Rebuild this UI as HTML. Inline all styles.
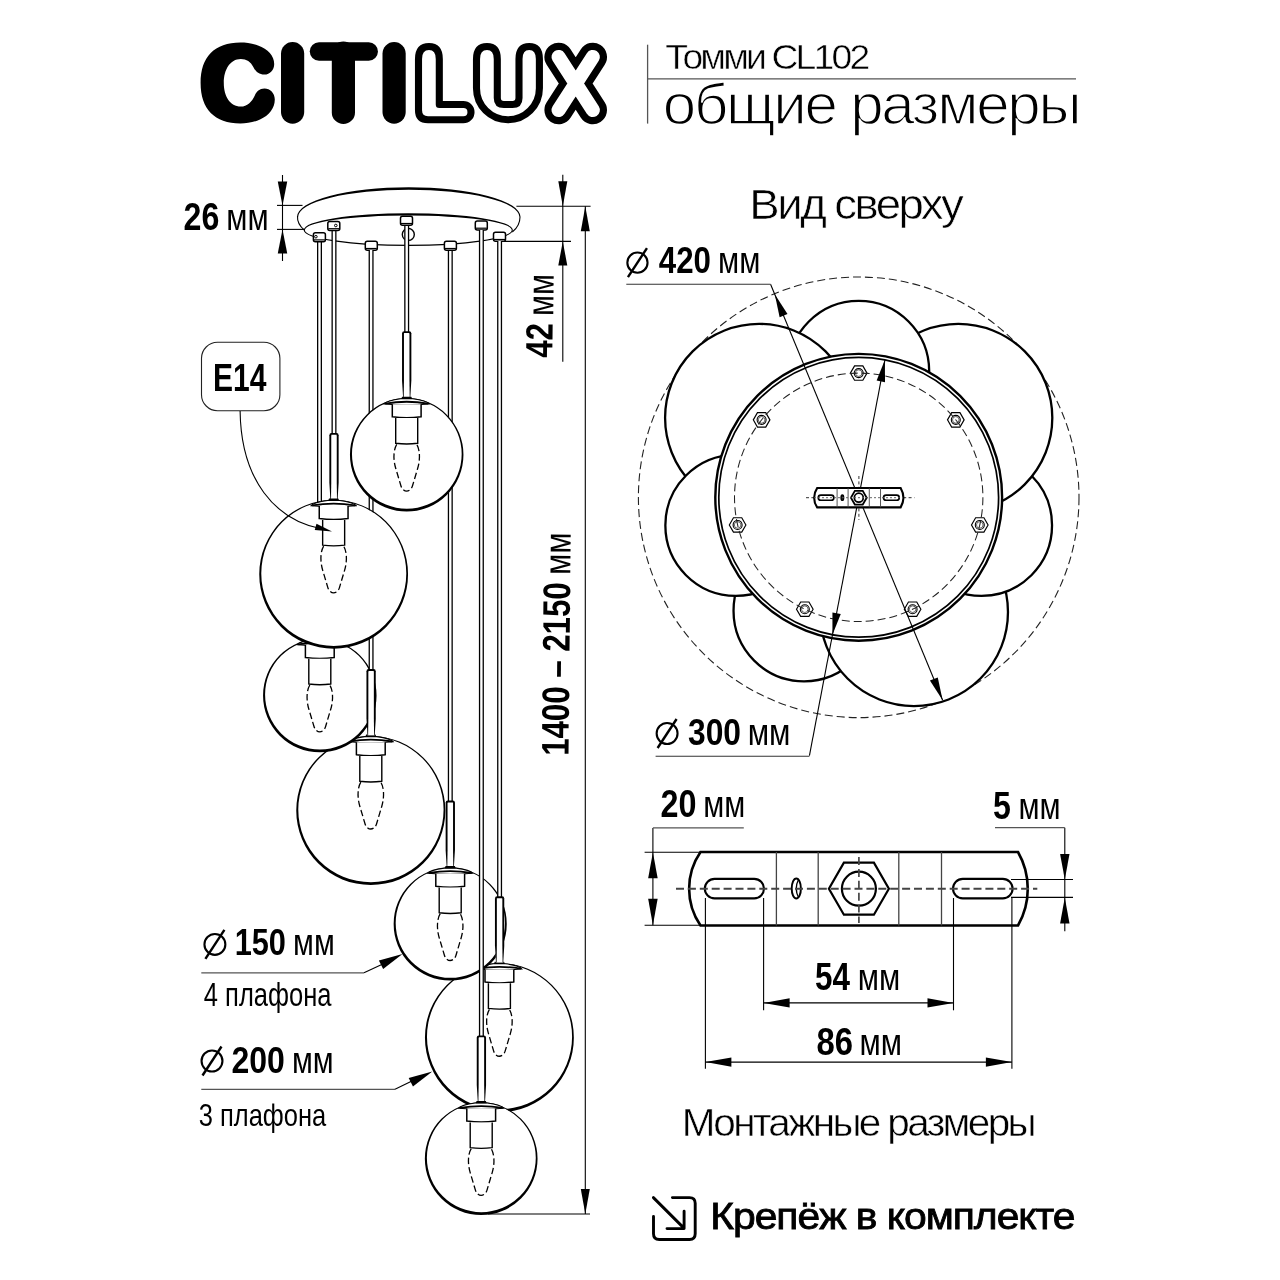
<!DOCTYPE html>
<html><head><meta charset="utf-8"><style>
html,body{margin:0;padding:0;background:#fff;overflow:hidden;}
svg{display:block;will-change:transform;}
text{font-family:"Liberation Sans",sans-serif;fill:#000;}
</style></head><body>
<svg width="1280" height="1280" viewBox="0 0 1280 1280" stroke="#000">
<rect width="1280" height="1280" fill="#fff" stroke="none"/>
<g fill="none" stroke="#000" stroke-linecap="round" stroke-linejoin="round">
<path fill="#000" stroke="none" d="M274.2,64 C274.2,56 268,49 258,45.5 C252,43.3 246,42.6 240.4,42.6 C214.5,42.6 200.6,57 200.6,83 C200.6,109 214.5,123.4 240.4,123.4 C247,123.4 254,122.3 260,119.5 C269,115.5 274.8,108 274.8,99.5 C274.8,93 270,88.5 264.5,88.5 C259.5,88.5 256.5,91.5 254.8,95.5 C252,102 247,106.6 240.8,106.6 C230,106.6 223.8,96 223.8,83 C223.8,70 230,59.1 240.8,59.1 C246.5,59.1 250.8,62 253.3,67 C255.5,71.5 259,74.6 264.3,74.6 C270,74.6 274.2,70 274.2,64Z"/>
<line x1="292.6" y1="53.6" x2="292.6" y2="112.1" stroke-width="23.2" />
<line x1="319" y1="51.5" x2="368.7" y2="51.5" stroke-width="18.5" />
<line x1="343.4" y1="53" x2="343.4" y2="112.4" stroke-width="23.2" />
<line x1="394.1" y1="53.6" x2="394.1" y2="112.1" stroke-width="23.2" />
</g>
<path fill="#fff" stroke="#000" stroke-width="7.1" stroke-linejoin="round" d="M418.5,59 Q418.5,46.5 429,46.5 Q439.3,46.5 439.3,59 L439.3,104.5 L463.35,104.5 A7.65,7.65 0 0 1 463.35,119.8 L428,119.8 Q418.5,119.8 418.5,110.3 Z"/>
<path fill="#fff" stroke="#000" stroke-width="7.1" stroke-linejoin="round" d="M476.5,59 Q476.5,46.5 487,46.5 Q497.3,46.5 497.3,59 L497.3,98 Q497.3,104.5 503.8,104.5 L512.5,104.5 Q519,104.5 519,98 L519,59 Q519,46.5 529.2,46.5 Q539.4,46.5 539.4,59 L539.4,88.35 A31.45,31.45 0 0 1 476.5,88.35 Z"/>
<g fill="none" stroke-linecap="round" stroke-linejoin="round">
<path d="M558.6,57 L592.8,110 M592.8,57 L558.6,110" stroke="#000" stroke-width="28.4"/>
<path d="M558.6,57 L592.8,110 M592.8,57 L558.6,110" stroke="#fff" stroke-width="14.2"/>
</g>
<line x1="647.6" y1="44.7" x2="647.6" y2="123.6" stroke-width="1.3" stroke="#555"/>
<line x1="647.6" y1="78.8" x2="1076" y2="78.8" stroke-width="1.3" stroke="#555"/>
<text x="633.68" y="68.9" font-size="35.5" letter-spacing="-2.663" transform="scale(1.05,1)" stroke="#fff" stroke-width="0.5">Томми CL102</text>
<text x="634.24" y="124" font-size="57.5" letter-spacing="-2.151" transform="scale(1.045,1)" stroke="#fff" stroke-width="1.5">общие размеры</text>
<g fill="none" stroke="#000">
<path fill="#000" stroke="none" d="M296.95,217 A111.8,29.85 0 0 1 520.55,217 L519.45,217 A110.7,27.35 0 0 0 298.05,217Z"/>
<path d="M297.5,216 Q297,224 304.3,230" stroke-width="1.1"/>
<path d="M520,217 Q520,226 512.3,232" stroke-width="1.1"/>
<path fill="#000" stroke="none" d="M303.75,230 A104.55,16.75 0 0 1 512.85,230 L511.75,230 A103.45,14.45 0 0 0 304.85,230Z"/>
<path d="M304.3,230 A104,15.4 0 0 0 512.3,230" stroke-width="1.1"/>
</g>
<circle cx="408.3" cy="234.4" r="6" fill="none" stroke="#000" stroke-width="1.4"/>
<line x1="282.5" y1="175" x2="282.5" y2="261" stroke-width="1.1" />
<path d="M282.5,205.4 L277.75,181.4 L287.25,181.4Z" fill="#000" stroke="none"/>
<path d="M282.5,229.4 L287.25,253.4 L277.75,253.4Z" fill="#000" stroke="none"/>
<line x1="277" y1="205.4" x2="302.5" y2="205.4" stroke-width="1.1" />
<line x1="277" y1="229.4" x2="304" y2="229.4" stroke-width="1.1" />
<line x1="562.8" y1="174.7" x2="562.8" y2="361.7" stroke-width="1.1" />
<path d="M562.8,206.25 L558.3,181.25 L567.3,181.25Z" fill="#000" stroke="none"/>
<path d="M562.8,241.4 L567.3,265.4 L558.3,265.4Z" fill="#000" stroke="none"/>
<line x1="516.4" y1="206.25" x2="590.6" y2="206.25" stroke-width="1.1" />
<line x1="504" y1="241.4" x2="571" y2="241.4" stroke-width="1.1" />
<line x1="585.3" y1="206.25" x2="585.3" y2="1214" stroke-width="1.1" />
<path d="M585.3,206.25 L589.8,231.25 L580.8,231.25Z" fill="#000" stroke="none"/>
<path d="M585.3,1214 L580.8,1189 L589.8,1189Z" fill="#000" stroke="none"/>
<line x1="488" y1="1214" x2="590" y2="1214" stroke-width="1.1" />
<rect x="317.6" y="241" width="3.8" height="338.8" fill="#fff" stroke="none"/>
<line x1="317.65" y1="241" x2="317.65" y2="579.8" stroke-width="1.3" />
<line x1="321.35" y1="241" x2="321.35" y2="579.8" stroke-width="1.3" />
<rect x="332.1" y="230" width="3.8" height="210.9" fill="#fff" stroke="none"/>
<line x1="332.15" y1="230" x2="332.15" y2="440.9" stroke-width="1.3" />
<line x1="335.85" y1="230" x2="335.85" y2="440.9" stroke-width="1.3" />
<rect x="404.8" y="225" width="3.8" height="114.1" fill="#fff" stroke="none"/>
<line x1="404.85" y1="225" x2="404.85" y2="339.1" stroke-width="1.3" />
<line x1="408.55" y1="225" x2="408.55" y2="339.1" stroke-width="1.3" />
<rect x="448.4" y="250" width="3.8" height="558.5" fill="#fff" stroke="none"/>
<line x1="448.45" y1="250" x2="448.45" y2="808.5" stroke-width="1.3" />
<line x1="452.15" y1="250" x2="452.15" y2="808.5" stroke-width="1.3" />
<rect x="315.7" y="572.8" width="7.6" height="65.4" fill="#fff" stroke="none"/>
<path d="M315.8,574.3 Q315.8,572.8 317,572.8 L322,572.8 Q323.2,572.8 323.2,574.3" fill="none" stroke="#000" stroke-width="1.9"/>
<path d="M314.85,573.8 L316.75,573.8 L316.75,621.2 L316.5,638.2 L315.9,638.2 L314.85,621.2Z" fill="#000" stroke="none"/>
<path d="M324.15,573.8 L322.25,573.8 L322.25,621.2 L322.5,638.2 L323.1,638.2 L324.15,621.2Z" fill="#000" stroke="none"/>
<rect x="330.2" y="433.9" width="7.6" height="65.4" fill="#fff" stroke="none"/>
<path d="M330.3,435.4 Q330.3,433.9 331.5,433.9 L336.5,433.9 Q337.7,433.9 337.7,435.4" fill="none" stroke="#000" stroke-width="1.9"/>
<path d="M329.35,434.9 L331.25,434.9 L331.25,482.3 L331,499.3 L330.4,499.3 L329.35,482.3Z" fill="#000" stroke="none"/>
<path d="M338.65,434.9 L336.75,434.9 L336.75,482.3 L337,499.3 L337.6,499.3 L338.65,482.3Z" fill="#000" stroke="none"/>
<rect x="402.9" y="332.1" width="7.6" height="65.4" fill="#fff" stroke="none"/>
<path d="M403,333.6 Q403,332.1 404.2,332.1 L409.2,332.1 Q410.4,332.1 410.4,333.6" fill="none" stroke="#000" stroke-width="1.9"/>
<path d="M402.05,333.1 L403.95,333.1 L403.95,380.5 L403.7,397.5 L403.1,397.5 L402.05,380.5Z" fill="#000" stroke="none"/>
<path d="M411.35,333.1 L409.45,333.1 L409.45,380.5 L409.7,397.5 L410.3,397.5 L411.35,380.5Z" fill="#000" stroke="none"/>
<rect x="446.5" y="801.5" width="7.6" height="65.4" fill="#fff" stroke="none"/>
<path d="M446.6,803 Q446.6,801.5 447.8,801.5 L452.8,801.5 Q454,801.5 454,803" fill="none" stroke="#000" stroke-width="1.9"/>
<path d="M445.65,802.5 L447.55,802.5 L447.55,849.9 L447.3,866.9 L446.7,866.9 L445.65,849.9Z" fill="#000" stroke="none"/>
<path d="M454.95,802.5 L453.05,802.5 L453.05,849.9 L453.3,866.9 L453.9,866.9 L454.95,849.9Z" fill="#000" stroke="none"/>
<rect x="313.4" y="232.7" width="12" height="9" rx="2" fill="#fff" stroke="#000" stroke-width="1.5"/>
<line x1="313.9" y1="239.9" x2="324.9" y2="239.9" stroke-width="1.2" />
<circle cx="315.9" cy="236.7" r="1.3" fill="none" stroke="#000" stroke-width="1"/>
<rect x="327.8" y="221.5" width="12" height="9" rx="2" fill="#fff" stroke="#000" stroke-width="1.5"/>
<line x1="328.3" y1="228.7" x2="339.3" y2="228.7" stroke-width="1.2" />
<circle cx="335.8" cy="225.5" r="1.3" fill="none" stroke="#000" stroke-width="1"/>
<rect x="365.3" y="241.3" width="12" height="9" rx="2" fill="#fff" stroke="#000" stroke-width="1.5"/>
<line x1="365.8" y1="248.5" x2="376.8" y2="248.5" stroke-width="1.2" />
<rect x="400.5" y="216.3" width="12" height="9" rx="2" fill="#fff" stroke="#000" stroke-width="1.5"/>
<line x1="401" y1="223.5" x2="412" y2="223.5" stroke-width="1.2" />
<rect x="444.4" y="241.3" width="12" height="9" rx="2" fill="#fff" stroke="#000" stroke-width="1.5"/>
<line x1="444.9" y1="248.5" x2="455.9" y2="248.5" stroke-width="1.2" />
<rect x="475.3" y="221" width="12" height="9" rx="2" fill="#fff" stroke="#000" stroke-width="1.5"/>
<line x1="475.8" y1="228.2" x2="486.8" y2="228.2" stroke-width="1.2" />
<rect x="493.5" y="232.3" width="12" height="9" rx="2" fill="#fff" stroke="#000" stroke-width="1.5"/>
<line x1="494" y1="239.5" x2="505" y2="239.5" stroke-width="1.2" />
<circle cx="370.8" cy="810.5" r="73.5" fill="#fff" stroke="none"/>
<path fill="#000" stroke="none" fill-rule="evenodd" d="M296.25,810.5 a74.55,74.55 0 1 0 149.1,0 a74.55,74.55 0 1 0 -149.1,0Z M298.28,809.61 a72.65,72.65 0 1 0 145.3,0 a72.65,72.65 0 1 0 -145.3,0Z"/>
<path d="M348.3,741.8 Q350.8,738.4 364.8,736.6 L376.8,736.6 Q390.8,738.4 393.3,741.8 Q370.8,743.8 348.3,741.8Z" fill="#fff" stroke="#000" stroke-width="1.1"/>
<path d="M349.3,741.5 Q370.8,737.8 392.3,741.5" fill="none" stroke="#000" stroke-width="1.8"/>
<path d="M365.2,736.8 L366.2,734.6 L375.4,734.6 L376.4,736.8Z" fill="#000" stroke="none"/>
<path d="M356.4,742.2 L356.4,754.7 Q370.8,756.7 385.2,754.7 L385.2,742.2" fill="#fff" stroke="#000" stroke-width="1.5"/>
<path d="M359.8,756 L359.8,781.2 Q370.8,782.7 381.8,781.2 L381.8,756" fill="#fff" stroke="#000" stroke-width="1.4"/>
<path d="M360.8,782.2 C357.2,788.2 357.4,798.2 359.8,806.2 L365,823.7 C367,830.7 374.6,830.7 376.6,823.7 L381.8,806.2 C384.2,798.2 384.4,788.2 380.8,782.2" fill="none" stroke="#000" stroke-width="1.3" stroke-dasharray="6.5 3"/>
<circle cx="319.8" cy="695.5" r="55.7" fill="#fff" stroke="none"/>
<path fill="#000" stroke="none" fill-rule="evenodd" d="M263.05,695.5 a56.75,56.75 0 1 0 113.5,0 a56.75,56.75 0 1 0 -113.5,0Z M265.08,694.61 a54.85,54.85 0 1 0 109.7,0 a54.85,54.85 0 1 0 -109.7,0Z"/>
<path d="M297.3,644.6 Q299.8,641.2 313.8,639.4 L325.8,639.4 Q339.8,641.2 342.3,644.6 Q319.8,646.6 297.3,644.6Z" fill="#fff" stroke="#000" stroke-width="1.1"/>
<path d="M298.3,644.3 Q319.8,640.6 341.3,644.3" fill="none" stroke="#000" stroke-width="1.8"/>
<path d="M314.2,639.6 L315.2,637.4 L324.4,637.4 L325.4,639.6Z" fill="#000" stroke="none"/>
<path d="M305.4,645 L305.4,657.5 Q319.8,659.5 334.2,657.5 L334.2,645" fill="#fff" stroke="#000" stroke-width="1.5"/>
<path d="M308.8,658.8 L308.8,684 Q319.8,685.5 330.8,684 L330.8,658.8" fill="#fff" stroke="#000" stroke-width="1.4"/>
<path d="M309.8,685 C306.2,691 306.4,701 308.8,709 L314,726.5 C316,733.5 323.6,733.5 325.6,726.5 L330.8,709 C333.2,701 333.4,691 329.8,685" fill="none" stroke="#000" stroke-width="1.3" stroke-dasharray="6.5 3"/>
<rect x="369.2" y="250" width="3.8" height="427" fill="#fff" stroke="none"/>
<line x1="369.25" y1="250" x2="369.25" y2="677" stroke-width="1.3" />
<line x1="372.95" y1="250" x2="372.95" y2="677" stroke-width="1.3" />
<rect x="367.3" y="670" width="7.6" height="65.4" fill="#fff" stroke="none"/>
<path d="M367.4,671.5 Q367.4,670 368.6,670 L373.6,670 Q374.8,670 374.8,671.5" fill="none" stroke="#000" stroke-width="1.9"/>
<path d="M366.45,671 L368.35,671 L368.35,718.4 L368.1,735.4 L367.5,735.4 L366.45,718.4Z" fill="#000" stroke="none"/>
<path d="M375.75,671 L373.85,671 L373.85,718.4 L374.1,735.4 L374.7,735.4 L375.75,718.4Z" fill="#000" stroke="none"/>
<circle cx="333.65" cy="574.25" r="73.35" fill="#fff" stroke="none"/>
<path fill="#000" stroke="none" fill-rule="evenodd" d="M259.25,574.25 a74.4,74.4 0 1 0 148.8,0 a74.4,74.4 0 1 0 -148.8,0Z M261.28,573.36 a72.5,72.5 0 1 0 145,0 a72.5,72.5 0 1 0 -145,0Z"/>
<path d="M311.15,505.7 Q313.65,502.3 327.65,500.5 L339.65,500.5 Q353.65,502.3 356.15,505.7 Q333.65,507.7 311.15,505.7Z" fill="#fff" stroke="#000" stroke-width="1.1"/>
<path d="M312.15,505.4 Q333.65,501.7 355.15,505.4" fill="none" stroke="#000" stroke-width="1.8"/>
<path d="M328.05,500.7 L329.05,498.5 L338.25,498.5 L339.25,500.7Z" fill="#000" stroke="none"/>
<path d="M319.25,506.1 L319.25,518.6 Q333.65,520.6 348.05,518.6 L348.05,506.1" fill="#fff" stroke="#000" stroke-width="1.5"/>
<path d="M322.65,519.9 L322.65,545.1 Q333.65,546.6 344.65,545.1 L344.65,519.9" fill="#fff" stroke="#000" stroke-width="1.4"/>
<path d="M323.65,546.1 C320.05,552.1 320.25,562.1 322.65,570.1 L327.85,587.6 C329.85,594.6 337.45,594.6 339.45,587.6 L344.65,570.1 C347.05,562.1 347.25,552.1 343.65,546.1" fill="none" stroke="#000" stroke-width="1.3" stroke-dasharray="6.5 3"/>
<circle cx="406.7" cy="454.8" r="55.7" fill="#fff" stroke="none"/>
<path fill="#000" stroke="none" fill-rule="evenodd" d="M349.95,454.8 a56.75,56.75 0 1 0 113.5,0 a56.75,56.75 0 1 0 -113.5,0Z M351.98,453.91 a54.85,54.85 0 1 0 109.7,0 a54.85,54.85 0 1 0 -109.7,0Z"/>
<path d="M384.2,403.9 Q386.7,400.5 400.7,398.7 L412.7,398.7 Q426.7,400.5 429.2,403.9 Q406.7,405.9 384.2,403.9Z" fill="#fff" stroke="#000" stroke-width="1.1"/>
<path d="M385.2,403.6 Q406.7,399.9 428.2,403.6" fill="none" stroke="#000" stroke-width="1.8"/>
<path d="M401.1,398.9 L402.1,396.7 L411.3,396.7 L412.3,398.9Z" fill="#000" stroke="none"/>
<path d="M392.3,404.3 L392.3,416.8 Q406.7,418.8 421.1,416.8 L421.1,404.3" fill="#fff" stroke="#000" stroke-width="1.5"/>
<path d="M395.7,418.1 L395.7,443.3 Q406.7,444.8 417.7,443.3 L417.7,418.1" fill="#fff" stroke="#000" stroke-width="1.4"/>
<path d="M396.7,444.3 C393.1,450.3 393.3,460.3 395.7,468.3 L400.9,485.8 C402.9,492.8 410.5,492.8 412.5,485.8 L417.7,468.3 C420.1,460.3 420.3,450.3 416.7,444.3" fill="none" stroke="#000" stroke-width="1.3" stroke-dasharray="6.5 3"/>
<circle cx="499.4" cy="1037.6" r="73.4" fill="#fff" stroke="none"/>
<path fill="#000" stroke="none" fill-rule="evenodd" d="M424.95,1037.6 a74.45,74.45 0 1 0 148.9,0 a74.45,74.45 0 1 0 -148.9,0Z M426.98,1036.71 a72.55,72.55 0 1 0 145.1,0 a72.55,72.55 0 1 0 -145.1,0Z"/>
<path d="M476.9,969 Q479.4,965.6 493.4,963.8 L505.4,963.8 Q519.4,965.6 521.9,969 Q499.4,971 476.9,969Z" fill="#fff" stroke="#000" stroke-width="1.1"/>
<path d="M477.9,968.7 Q499.4,965 520.9,968.7" fill="none" stroke="#000" stroke-width="1.8"/>
<path d="M493.8,964 L494.8,961.8 L504,961.8 L505,964Z" fill="#000" stroke="none"/>
<path d="M485,969.4 L485,981.9 Q499.4,983.9 513.8,981.9 L513.8,969.4" fill="#fff" stroke="#000" stroke-width="1.5"/>
<path d="M488.4,983.2 L488.4,1008.4 Q499.4,1009.9 510.4,1008.4 L510.4,983.2" fill="#fff" stroke="#000" stroke-width="1.4"/>
<path d="M489.4,1009.4 C485.8,1015.4 486,1025.4 488.4,1033.4 L493.6,1050.9 C495.6,1057.9 503.2,1057.9 505.2,1050.9 L510.4,1033.4 C512.8,1025.4 513,1015.4 509.4,1009.4" fill="none" stroke="#000" stroke-width="1.3" stroke-dasharray="6.5 3"/>
<circle cx="450.2" cy="924" r="55.5" fill="#fff" stroke="none"/>
<path fill="#000" stroke="none" fill-rule="evenodd" d="M393.65,924 a56.55,56.55 0 1 0 113.1,0 a56.55,56.55 0 1 0 -113.1,0Z M395.69,923.11 a54.65,54.65 0 1 0 109.3,0 a54.65,54.65 0 1 0 -109.3,0Z"/>
<path d="M427.7,873.3 Q430.2,869.9 444.2,868.1 L456.2,868.1 Q470.2,869.9 472.7,873.3 Q450.2,875.3 427.7,873.3Z" fill="#fff" stroke="#000" stroke-width="1.1"/>
<path d="M428.7,873 Q450.2,869.3 471.7,873" fill="none" stroke="#000" stroke-width="1.8"/>
<path d="M444.6,868.3 L445.6,866.1 L454.8,866.1 L455.8,868.3Z" fill="#000" stroke="none"/>
<path d="M435.8,873.7 L435.8,886.2 Q450.2,888.2 464.6,886.2 L464.6,873.7" fill="#fff" stroke="#000" stroke-width="1.5"/>
<path d="M439.2,887.5 L439.2,912.7 Q450.2,914.2 461.2,912.7 L461.2,887.5" fill="#fff" stroke="#000" stroke-width="1.4"/>
<path d="M440.2,913.7 C436.6,919.7 436.8,929.7 439.2,937.7 L444.4,955.2 C446.4,962.2 454,962.2 456,955.2 L461.2,937.7 C463.6,929.7 463.8,919.7 460.2,913.7" fill="none" stroke="#000" stroke-width="1.3" stroke-dasharray="6.5 3"/>
<rect x="479.5" y="230" width="3.8" height="813.4" fill="#fff" stroke="none"/>
<line x1="479.55" y1="230" x2="479.55" y2="1043.4" stroke-width="1.3" />
<line x1="483.25" y1="230" x2="483.25" y2="1043.4" stroke-width="1.3" />
<rect x="497.7" y="241" width="3.8" height="663.2" fill="#fff" stroke="none"/>
<line x1="497.75" y1="241" x2="497.75" y2="904.2" stroke-width="1.3" />
<line x1="501.45" y1="241" x2="501.45" y2="904.2" stroke-width="1.3" />
<rect x="477.6" y="1036.4" width="7.6" height="65.4" fill="#fff" stroke="none"/>
<path d="M477.7,1037.9 Q477.7,1036.4 478.9,1036.4 L483.9,1036.4 Q485.1,1036.4 485.1,1037.9" fill="none" stroke="#000" stroke-width="1.9"/>
<path d="M476.75,1037.4 L478.65,1037.4 L478.65,1084.8 L478.4,1101.8 L477.8,1101.8 L476.75,1084.8Z" fill="#000" stroke="none"/>
<path d="M486.05,1037.4 L484.15,1037.4 L484.15,1084.8 L484.4,1101.8 L485,1101.8 L486.05,1084.8Z" fill="#000" stroke="none"/>
<rect x="495.8" y="897.2" width="7.6" height="65.4" fill="#fff" stroke="none"/>
<path d="M495.9,898.7 Q495.9,897.2 497.1,897.2 L502.1,897.2 Q503.3,897.2 503.3,898.7" fill="none" stroke="#000" stroke-width="1.9"/>
<path d="M494.95,898.2 L496.85,898.2 L496.85,945.6 L496.6,962.6 L496,962.6 L494.95,945.6Z" fill="#000" stroke="none"/>
<path d="M504.25,898.2 L502.35,898.2 L502.35,945.6 L502.6,962.6 L503.2,962.6 L504.25,945.6Z" fill="#000" stroke="none"/>
<circle cx="481.2" cy="1158.7" r="55.3" fill="#fff" stroke="none"/>
<path fill="#000" stroke="none" fill-rule="evenodd" d="M424.85,1158.7 a56.35,56.35 0 1 0 112.7,0 a56.35,56.35 0 1 0 -112.7,0Z M426.88,1157.81 a54.45,54.45 0 1 0 108.9,0 a54.45,54.45 0 1 0 -108.9,0Z"/>
<path d="M458.7,1108.2 Q461.2,1104.8 475.2,1103 L487.2,1103 Q501.2,1104.8 503.7,1108.2 Q481.2,1110.2 458.7,1108.2Z" fill="#fff" stroke="#000" stroke-width="1.1"/>
<path d="M459.7,1107.9 Q481.2,1104.2 502.7,1107.9" fill="none" stroke="#000" stroke-width="1.8"/>
<path d="M475.6,1103.2 L476.6,1101 L485.8,1101 L486.8,1103.2Z" fill="#000" stroke="none"/>
<path d="M466.8,1108.6 L466.8,1121.1 Q481.2,1123.1 495.6,1121.1 L495.6,1108.6" fill="#fff" stroke="#000" stroke-width="1.5"/>
<path d="M470.2,1122.4 L470.2,1147.6 Q481.2,1149.1 492.2,1147.6 L492.2,1122.4" fill="#fff" stroke="#000" stroke-width="1.4"/>
<path d="M471.2,1148.6 C467.6,1154.6 467.8,1164.6 470.2,1172.6 L475.4,1190.1 C477.4,1197.1 485,1197.1 487,1190.1 L492.2,1172.6 C494.6,1164.6 494.8,1154.6 491.2,1148.6" fill="none" stroke="#000" stroke-width="1.3" stroke-dasharray="6.5 3"/>
<rect x="201.5" y="342.3" width="78.4" height="68.4" rx="16" fill="#fff" stroke="#222" stroke-width="1.1"/>
<text x="212.99" y="390.5" font-size="38.8" font-weight="bold" textLength="53.47" lengthAdjust="spacingAndGlyphs"  stroke="none">E14</text>
<path d="M240.1,411 C241,480 275,520 322,529" fill="none" stroke="#000" stroke-width="1.1"/>
<path d="M332,531.5 L314.75,530.05 L316.51,523.79Z" fill="#000" stroke="none"/>
<circle cx="214.9" cy="944.4" r="10.45" fill="none" stroke-width="2.1"/>
<line x1="205.4" y1="958.9" x2="224.4" y2="929.9" stroke-width="2.4" />
<text x="234.66" y="955.4" font-size="37.8" font-weight="bold" textLength="51.3" lengthAdjust="spacingAndGlyphs"  stroke="none">150</text>
<text x="293.1" y="955.4" font-size="36.5" textLength="41.69" lengthAdjust="spacingAndGlyphs"  stroke="none">мм</text>
<line x1="201.3" y1="972.8" x2="364" y2="972.8" stroke-width="1.3" stroke="#555"/>
<path d="M364,972.8 L385,963" fill="none" stroke="#000" stroke-width="1.1"/>
<path d="M402.5,954 L383.16,968.98 L378.91,960.48Z" fill="#000" stroke="none"/>
<text x="203.81" y="1006.1" font-size="32.3" textLength="127.69" lengthAdjust="spacingAndGlyphs"  stroke="none">4 плафона</text>
<circle cx="212" cy="1061" r="10.45" fill="none" stroke-width="2.1"/>
<line x1="202.5" y1="1075.5" x2="221.5" y2="1046.5" stroke-width="2.4" />
<text x="231.39" y="1072.7" font-size="37.8" font-weight="bold" textLength="53.42" lengthAdjust="spacingAndGlyphs"  stroke="none">200</text>
<text x="291.9" y="1072.7" font-size="36.5" textLength="41.69" lengthAdjust="spacingAndGlyphs"  stroke="none">мм</text>
<line x1="201.3" y1="1089.3" x2="395" y2="1089.3" stroke-width="1.3" stroke="#555"/>
<path d="M395,1089.3 L414,1080" fill="none" stroke="#000" stroke-width="1.1"/>
<path d="M432.3,1071.5 L412.96,1086.48 L408.71,1077.98Z" fill="#000" stroke="none"/>
<text x="198.73" y="1125.8" font-size="31.8" textLength="127.57" lengthAdjust="spacingAndGlyphs"  stroke="none">3 плафона</text>
<text x="183.58" y="229.8" font-size="38.2" font-weight="bold" textLength="35.78" lengthAdjust="spacingAndGlyphs"  stroke="none">26</text>
<text x="226.26" y="229.8" font-size="37.2" textLength="42.36" lengthAdjust="spacingAndGlyphs"  stroke="none">мм</text>
<g transform="translate(552.3,357.2) rotate(-89.4)">
<text x="-0.47" y="0" font-size="38" font-weight="bold" textLength="34.51" lengthAdjust="spacingAndGlyphs"  stroke="none">42</text>
<text x="41.3" y="0.6" font-size="37.5" textLength="41.69" lengthAdjust="spacingAndGlyphs"  stroke="none">мм</text>
</g>
<g transform="translate(568.4,753.9) rotate(-89.4)">
<text x="-1.97" y="0" font-size="38.5" font-weight="bold" textLength="173.55" lengthAdjust="spacingAndGlyphs"  stroke="none">1400 – 2150</text>
<text x="178.97" y="0" font-size="37.5" textLength="42.25" lengthAdjust="spacingAndGlyphs"  stroke="none">мм</text>
</g>
<text x="700.34" y="219.1" font-size="42.6" letter-spacing="-2.377" transform="scale(1.07,1)" stroke="#fff" stroke-width="0.6">Вид сверху</text>
<circle cx="858.7" cy="497.3" r="220.3" fill="none" stroke="#222" stroke-width="1.1" stroke-dasharray="8 4"/>
<circle cx="804.03" cy="610.82" r="70.5" fill="#fff" stroke="#000" stroke-width="2.3"/>
<circle cx="913.98" cy="612.08" r="94" fill="#fff" stroke="#000" stroke-width="2.3"/>
<circle cx="981.54" cy="525.34" r="70.5" fill="#fff" stroke="#000" stroke-width="2.3"/>
<circle cx="958.31" cy="417.87" r="94" fill="#fff" stroke="#000" stroke-width="2.3"/>
<circle cx="858.7" cy="371.3" r="70.5" fill="#fff" stroke="#000" stroke-width="2.3"/>
<circle cx="759.09" cy="417.87" r="94" fill="#fff" stroke="#000" stroke-width="2.3"/>
<circle cx="735.86" cy="525.34" r="70.5" fill="#fff" stroke="#000" stroke-width="2.3"/>
<circle cx="858.7" cy="497.3" r="143.4" fill="#fff" stroke="#000" stroke-width="2.4"/>
<circle cx="858.7" cy="497.3" r="139.9" fill="none" stroke="#000" stroke-width="1.7"/>
<polygon points="867,373.1 862.85,380.29 854.55,380.29 850.4,373.1 854.55,365.91 862.85,365.91" fill="#fff" stroke="#000" stroke-width="1.15"/>
<circle cx="858.7" cy="373.1" r="4.5" fill="none" stroke="#000" stroke-width="1.1"/>
<circle cx="858.7" cy="373.1" r="3.3" fill="none" stroke="#000" stroke-width="0.6"/>
<polygon points="964.1,419.86 959.95,427.05 951.65,427.05 947.5,419.86 951.65,412.67 959.95,412.67" fill="#fff" stroke="#000" stroke-width="1.15"/>
<circle cx="955.8" cy="419.86" r="4.5" fill="none" stroke="#000" stroke-width="1.1"/>
<circle cx="955.8" cy="419.86" r="3.3" fill="none" stroke="#000" stroke-width="0.6"/>
<polygon points="988.09,524.94 983.94,532.13 975.64,532.13 971.49,524.94 975.64,517.75 983.94,517.75" fill="#fff" stroke="#000" stroke-width="1.15"/>
<circle cx="979.79" cy="524.94" r="4.5" fill="none" stroke="#000" stroke-width="1.1"/>
<circle cx="979.79" cy="524.94" r="3.3" fill="none" stroke="#000" stroke-width="0.6"/>
<polygon points="920.89,609.2 916.74,616.39 908.44,616.39 904.29,609.2 908.44,602.01 916.74,602.01" fill="#fff" stroke="#000" stroke-width="1.15"/>
<circle cx="912.59" cy="609.2" r="4.5" fill="none" stroke="#000" stroke-width="1.1"/>
<circle cx="912.59" cy="609.2" r="3.3" fill="none" stroke="#000" stroke-width="0.6"/>
<polygon points="813.11,609.2 808.96,616.39 800.66,616.39 796.51,609.2 800.66,602.01 808.96,602.01" fill="#fff" stroke="#000" stroke-width="1.15"/>
<circle cx="804.81" cy="609.2" r="4.5" fill="none" stroke="#000" stroke-width="1.1"/>
<circle cx="804.81" cy="609.2" r="3.3" fill="none" stroke="#000" stroke-width="0.6"/>
<polygon points="745.91,524.94 741.76,532.13 733.46,532.13 729.31,524.94 733.46,517.75 741.76,517.75" fill="#fff" stroke="#000" stroke-width="1.15"/>
<circle cx="737.61" cy="524.94" r="4.5" fill="none" stroke="#000" stroke-width="1.1"/>
<circle cx="737.61" cy="524.94" r="3.3" fill="none" stroke="#000" stroke-width="0.6"/>
<polygon points="769.9,419.86 765.75,427.05 757.45,427.05 753.3,419.86 757.45,412.67 765.75,412.67" fill="#fff" stroke="#000" stroke-width="1.15"/>
<circle cx="761.6" cy="419.86" r="4.5" fill="none" stroke="#000" stroke-width="1.1"/>
<circle cx="761.6" cy="419.86" r="3.3" fill="none" stroke="#000" stroke-width="0.6"/>
<circle cx="858.7" cy="497.3" r="124.2" fill="none" stroke="#222" stroke-width="1.05" stroke-dasharray="8 4"/>
<line x1="770.56" y1="284.18" x2="942.63" y2="700.25" stroke-width="1.1" />
<path d="M774.77,294.35 L787.49,313.98 L779.63,317.22Z" fill="#000" stroke="none"/>
<path d="M942.63,700.25 L929.91,680.62 L937.77,677.38Z" fill="#000" stroke="none"/>
<line x1="626.3" y1="284.3" x2="770.56" y2="284.18" stroke-width="1.1" stroke="#333"/>
<circle cx="637.45" cy="262.65" r="10.1" fill="none" stroke-width="2.1"/>
<line x1="627.95" y1="277.15" x2="646.95" y2="248.15" stroke-width="2.4" />
<text x="658.83" y="273" font-size="37" font-weight="bold" textLength="52.16" lengthAdjust="spacingAndGlyphs"  stroke="none">420</text>
<text x="718.06" y="273" font-size="36.5" textLength="42.36" lengthAdjust="spacingAndGlyphs"  stroke="none">мм</text>
<line x1="884.94" y1="359.78" x2="809.42" y2="755.6" stroke-width="1.1" />
<path d="M884.94,359.78 L884.99,382.18 L876.64,380.59Z" fill="#000" stroke="none"/>
<path d="M832.46,634.82 L832.41,612.42 L840.76,614.01Z" fill="#000" stroke="none"/>
<line x1="655.6" y1="756.3" x2="809.42" y2="756.3" stroke-width="1.1" stroke="#333"/>
<circle cx="667.1" cy="733.5" r="10.45" fill="none" stroke-width="2.1"/>
<line x1="657.6" y1="748" x2="676.6" y2="719" stroke-width="2.4" />
<line x1="806" y1="497.7" x2="914.4" y2="497.7" stroke="#333" stroke-width="1" stroke-dasharray="3 2.4"/>
<line x1="858.9" y1="476" x2="858.9" y2="520" stroke="#333" stroke-width="1" stroke-dasharray="3 2.4"/>
<path d="M817.14,488.05 L900.64,488.05 A19.46,19.46 0 0 1 900.64,507.38 L817.14,507.38 A17.1,17.1 0 0 1 817.14,488.05Z" fill="#fff" stroke="#000" stroke-width="2.1"/>
<line x1="837.1" y1="488.05" x2="837.1" y2="507.38" stroke-width="0.9" stroke="#444"/>
<line x1="848.1" y1="488.05" x2="848.1" y2="507.38" stroke-width="0.9" stroke="#444"/>
<line x1="869.29" y1="488.05" x2="869.29" y2="507.38" stroke-width="0.9" stroke="#444"/>
<line x1="880.52" y1="488.05" x2="880.52" y2="507.38" stroke-width="0.9" stroke="#444"/>
<rect x="818.27" y="495.11" width="15.57" height="5.13" rx="2.56" fill="#fff" stroke="#000" stroke-width="1.68"/>
<rect x="883.55" y="495.11" width="15.67" height="5.13" rx="2.56" fill="#fff" stroke="#000" stroke-width="1.68"/>
<ellipse cx="842.34" cy="497.65" rx="1.21" ry="2.63" fill="none" stroke="#000" stroke-width="1.58"/>
<path d="M842.91,495.28 Q841.73,497.65 842.91,500.01" fill="none" stroke="#000" stroke-width="0.9"/>
<polygon points="866.69,497.7 862.75,504.53 854.85,504.53 850.91,497.7 854.85,490.87 862.75,490.87" fill="#fff" stroke="#000" stroke-width="1.78"/>
<circle cx="858.8" cy="497.7" r="4.47" fill="none" stroke="#000" stroke-width="1.78"/>
<line x1="814" y1="497.7" x2="903" y2="497.7" stroke="#555" stroke-width="0.9" stroke-dasharray="2 2"/>
<text x="687.97" y="744.9" font-size="37.8" font-weight="bold" textLength="53.03" lengthAdjust="spacingAndGlyphs"  stroke="none">300</text>
<text x="747.64" y="744.9" font-size="36.5" textLength="42.8" lengthAdjust="spacingAndGlyphs"  stroke="none">мм</text>
<path d="M700.5,852 L1018,852 A74,74 0 0 1 1018,925.5 L700.5,925.5 A65,65 0 0 1 700.5,852Z" fill="#fff" stroke="#000" stroke-width="2.6"/>
<line x1="776.4" y1="852" x2="776.4" y2="925.5" stroke-width="1.3" stroke="#444"/>
<line x1="818.2" y1="852" x2="818.2" y2="925.5" stroke-width="1.3" stroke="#444"/>
<line x1="898.8" y1="852" x2="898.8" y2="925.5" stroke-width="1.3" stroke="#444"/>
<line x1="941.5" y1="852" x2="941.5" y2="925.5" stroke-width="1.3" stroke="#444"/>
<rect x="704.8" y="878.85" width="59.2" height="19.5" rx="9.75" fill="#fff" stroke="#000" stroke-width="2.08"/>
<rect x="953" y="878.85" width="59.6" height="19.5" rx="9.75" fill="#fff" stroke="#000" stroke-width="2.08"/>
<ellipse cx="796.3" cy="888.5" rx="4.6" ry="10" fill="none" stroke="#000" stroke-width="1.95"/>
<path d="M798.5,879.5 Q794,888.5 798.5,897.5" fill="none" stroke="#000" stroke-width="1.3"/>
<polygon points="888.9,888.7 873.9,914.68 843.9,914.68 828.9,888.7 843.9,862.72 873.9,862.72" fill="#fff" stroke="#000" stroke-width="2.21"/>
<circle cx="858.9" cy="888.7" r="17" fill="none" stroke="#000" stroke-width="2.21"/>
<line x1="676" y1="888.7" x2="1037.3" y2="888.7" stroke="#444" stroke-width="1.89" stroke-dasharray="8 3.9"/>
<line x1="858.9" y1="857" x2="858.9" y2="923" stroke="#444" stroke-width="1.69" stroke-dasharray="8 3.9"/>
<line x1="652.9" y1="828" x2="652.9" y2="925.2" stroke-width="1.1" />
<path d="M652.9,852.2 L657.65,878.2 L648.15,878.2Z" fill="#000" stroke="none"/>
<path d="M652.9,925.2 L648.15,898.7 L657.65,898.7Z" fill="#000" stroke="none"/>
<line x1="644.6" y1="852.2" x2="700" y2="852.2" stroke-width="1.1" />
<line x1="644.6" y1="925.2" x2="700" y2="925.2" stroke-width="1.1" />
<line x1="652.9" y1="827.8" x2="743.8" y2="827.8" stroke-width="1.3" stroke="#555"/>
<text x="660.48" y="817.4" font-size="38" font-weight="bold" textLength="35.95" lengthAdjust="spacingAndGlyphs"  stroke="none">20</text>
<text x="703.28" y="817.4" font-size="37" textLength="42.02" lengthAdjust="spacingAndGlyphs"  stroke="none">мм</text>
<line x1="1064.8" y1="827.7" x2="1064.8" y2="931.3" stroke-width="1.1" />
<path d="M1064.8,879.5 L1060.1,854 L1069.5,854Z" fill="#000" stroke="none"/>
<path d="M1064.8,897.6 L1069.5,923.4 L1060.1,923.4Z" fill="#000" stroke="none"/>
<line x1="1011" y1="879.5" x2="1073" y2="879.5" stroke-width="1.1" />
<line x1="1011" y1="897.4" x2="1073" y2="897.4" stroke-width="1.1" />
<line x1="995" y1="827.7" x2="1064.8" y2="827.7" stroke-width="1.3" stroke="#555"/>
<text x="992.91" y="819" font-size="38" font-weight="bold" textLength="17.88" lengthAdjust="spacingAndGlyphs"  stroke="none">5</text>
<text x="1018.48" y="819" font-size="37" textLength="42.13" lengthAdjust="spacingAndGlyphs"  stroke="none">мм</text>
<line x1="705.4" y1="898" x2="705.4" y2="1068.7" stroke-width="1.1" />
<line x1="763.6" y1="898" x2="763.6" y2="1010.3" stroke-width="1.1" />
<line x1="953.5" y1="898" x2="953.5" y2="1010.3" stroke-width="1.1" />
<line x1="1011.9" y1="898" x2="1011.9" y2="1068.7" stroke-width="1.1" />
<line x1="763.6" y1="1002.9" x2="953.5" y2="1002.9" stroke-width="1.1" />
<path d="M763.6,1002.9 L789.6,998.3 L789.6,1007.5Z" fill="#000" stroke="none"/>
<path d="M953.5,1002.9 L927.5,1007.5 L927.5,998.3Z" fill="#000" stroke="none"/>
<line x1="705.4" y1="1062.1" x2="1011.9" y2="1062.1" stroke-width="1.1" />
<path d="M705.4,1062.1 L731.4,1057.5 L731.4,1066.7Z" fill="#000" stroke="none"/>
<path d="M1011.9,1062.1 L985.9,1066.7 L985.9,1057.5Z" fill="#000" stroke="none"/>
<text x="815.03" y="990.2" font-size="38" font-weight="bold" textLength="34.93" lengthAdjust="spacingAndGlyphs"  stroke="none">54</text>
<text x="857.86" y="990.2" font-size="37" textLength="42.47" lengthAdjust="spacingAndGlyphs"  stroke="none">мм</text>
<text x="816.46" y="1054.7" font-size="38.5" font-weight="bold" textLength="36.53" lengthAdjust="spacingAndGlyphs"  stroke="none">86</text>
<text x="859.56" y="1054.7" font-size="37" textLength="42.47" lengthAdjust="spacingAndGlyphs"  stroke="none">мм</text>
<text x="649.32" y="1135.8" font-size="38.5" letter-spacing="-2.477" transform="scale(1.05,1)" stroke="#fff" stroke-width="0.5">Монтажные размеры</text>
<path d="M672.4,1197.6 L689.5,1197.6 Q695.2,1197.6 695.2,1203.3 L695.2,1233.8 Q695.2,1239.5 689.5,1239.5 L659.2,1239.5 Q653.5,1239.5 653.5,1233.8 L653.5,1216.4" fill="none" stroke="#000" stroke-width="2.9" stroke-linecap="round"/>
<path d="M653.4,1197.6 L683.2,1227.4 M684.1,1211.3 L684.1,1228.6 L667,1228.6" fill="none" stroke="#000" stroke-width="2.9" stroke-linecap="round" stroke-linejoin="round"/>
<text x="657.64" y="1229.1" font-size="37.8" letter-spacing="-0.939" transform="scale(1.08,1)" stroke="#000" stroke-width="0.8">Крепёж в комплекте</text>
</svg></body></html>
